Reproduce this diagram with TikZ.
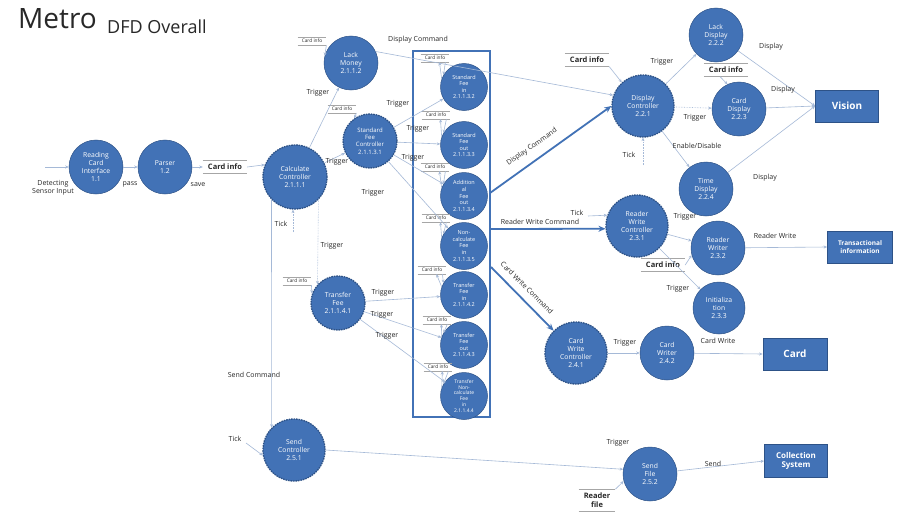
\documentclass[tikz,border=0pt]{standalone}
\usepackage{fontspec}
\setmainfont{Open Sans}
\usetikzlibrary{arrows.meta}
\definecolor{pfill}{RGB}{66,114,182}
\definecolor{pedge}{RGB}{45,82,135}
\definecolor{lnc}{RGB}{165,185,215}
\definecolor{txc}{RGB}{40,40,40}
\newcommand\dstore[4]{\node[#1] (#2) at (#3) {#4};
  \draw[sline] (#2.north west) -- (#2.north east) (#2.south west) -- (#2.south east);}
\begin{document}
\begin{tikzpicture}[x=1pt,y=-1pt,
 proc/.style={circle, fill=pfill, draw=pedge, line width=0.5pt, text=white, align=center, inner sep=0pt, font=\fontsize{6.8}{8.2}\selectfont},
 ctrl/.style={proc, line width=1.3pt, dash pattern=on 1.6pt off 0.9pt},
 boxp/.style={proc, minimum size=47, font=\fontsize{5.5}{6.6}\selectfont},
 ext/.style={rectangle, fill=pfill, draw=pedge, line width=0.8pt, text=white, align=center, inner sep=1pt, font=\bfseries\fontsize{10}{11}\selectfont},
 flow/.style={draw=lnc, line width=0.6pt, -{Stealth[length=3.5pt,width=3pt]}},
 big/.style={draw=pfill, line width=1.8pt, -{Stealth[length=7pt,width=6pt]}},
 lbl/.style={font=\fontsize{7}{8}\selectfont, text=txc, inner sep=0pt, align=center},
 tinystore/.style={font=\fontsize{4.8}{5.5}\selectfont, text=txc, inner xsep=4pt, inner ysep=2pt},
 boldstore/.style={font=\bfseries\fontsize{7.5}{8.5}\selectfont, text=txc, inner xsep=5pt, inner ysep=3.5pt, align=center},
 sline/.style={draw=gray!70, line width=0.6pt}
]
\fill[white] (0,0) rectangle (898,514);
\useasboundingbox (0,0) rectangle (898,514);

% title
\node[lbl, anchor=base west, font=\fontsize{28}{30}\selectfont] (t1) at (18,28) {Metro};
\node[lbl, anchor=base west, font=\fontsize{18}{20}\selectfont] (t2) at (107,34) {DFD Overall};

% processes left
\node[proc, minimum size=54] (rci) at (96,167) {Reading\\Card\\Interface\\1.1};
\node[proc, minimum size=54] (par) at (165,167) {Parser\\1.2};
\node[ctrl, minimum size=64] (calc) at (295,177) {Calculate\\Controller\\2.1.1.1};
\node[proc, minimum size=54] (lack) at (351,63) {Lack\\Money\\2.1.1.2};
\node[ctrl, minimum size=54, font=\fontsize{6}{7.2}\selectfont] (sfc) at (370,141) {Standard\\Fee\\Controller\\2.1.1.3.1};
\node[ctrl, minimum size=54] (tf) at (338,303) {Transfer\\Fee\\2.1.1.4.1};
\node[ctrl, minimum size=62] (sendc) at (294,450) {Send\\Controller\\2.5.1};

% box with fee processes
\node[draw=pfill, line width=1.6pt, minimum width=77, minimum height=366, inner sep=0pt] (box) at (451.5,234) {};
\node[boxp] (b1) at (464,87) {Standard\\Fee\\in\\2.1.1.3.2};
\node[boxp] (b2) at (464,145) {Standard\\Fee\\out\\2.1.1.3.3};
\node[boxp] (b3) at (464,196) {Addition\\al\\Fee\\out\\2.1.1.3.4};
\node[boxp] (b4) at (464,246) {Non-\\calculate\\Fee\\in\\2.1.1.3.5};
\node[boxp] (b5) at (464,295) {Transfer\\Fee\\in\\2.1.1.4.2};
\node[boxp] (b6) at (464,345) {Transfer\\Fee\\out\\2.1.1.4.3};
\node[boxp, font=\fontsize{5}{5.9}\selectfont] (b7) at (464,396) {Transfer\\Non-\\calculate\\Fee\\in\\2.1.1.4.4};

% right side
\node[ctrl, minimum size=62] (disp) at (643,106) {Display\\Controller\\2.2.1};
\node[proc, minimum size=54] (lackd) at (716,35) {Lack\\Display\\2.2.2};
\node[proc, minimum size=54] (cardd) at (739,109) {Card\\Display\\2.2.3};
\node[proc, minimum size=54] (timed) at (706,189) {Time\\Display\\2.2.4};
\node[ext, minimum width=63, minimum height=32] (vis) at (847,106) {Vision};
\node[ctrl, minimum size=62] (rwc) at (637,226) {Reader\\Write\\Controller\\2.3.1};
\node[proc, minimum size=54] (rw) at (718,248) {Reader\\Writer\\2.3.2};
\node[ext, minimum width=65, minimum height=32, font=\bfseries\fontsize{6.5}{7.5}\selectfont] (trans) at (860,247) {Transactional\\information};
\node[proc, minimum size=52] (init) at (719,308) {Initializa\\tion\\2.3.3};
\node[ctrl, minimum size=62] (cwc) at (576,353) {Card\\Write\\Controller\\2.4.1};
\node[proc, minimum size=54] (cw) at (667,353) {Card\\Writer\\2.4.2};
\node[ext, minimum width=64, minimum height=32] (card) at (795,354) {Card};
\node[proc, minimum size=54] (sf) at (650,474) {Send\\File\\2.5.2};
\node[ext, minimum width=63, minimum height=33, font=\bfseries\fontsize{8}{9}\selectfont] (coll) at (796,461) {Collection\\System};

% data stores
\dstore{boldstore}{ci0}{225,167}{Card info}
\dstore{boldstore}{ci1}{587,60}{Card info}
\dstore{boldstore}{ci2}{726,70}{Card info}
\dstore{boldstore}{ci3}{663,265}{Card info}
\dstore{boldstore}{rf}{597,500}{Reader\\file}
\dstore{tinystore}{s0}{312,41}{Card info}
\dstore{tinystore}{s1}{342,109}{Card info}
\dstore{tinystore}{s2}{297,281}{Card info}
\dstore{tinystore}{k1}{435,58}{Card info}
\dstore{tinystore}{k2}{436,115}{Card info}
\dstore{tinystore}{k3}{435,167}{Card info}
\dstore{tinystore}{k4}{436,218}{Card info}
\dstore{tinystore}{k5}{432,270}{Card info}
\dstore{tinystore}{k6}{437,320}{Card info}
\dstore{tinystore}{k7}{438,367}{Card info}

% free ends
\coordinate (inp) at (45,167);
\coordinate (tk1) at (293,232);
\coordinate (tk2) at (643,165);
\coordinate (tk3) at (588,216);
\coordinate (tk4) at (246,443);
\coordinate (bo1) at (490,193);
\coordinate (bo2) at (490,229);
\coordinate (bo3) at (491,267);

% flows left
\draw[flow] (inp) -- (rci);
\draw[flow] (rci) -- (par);
\draw[flow] (par) -- (ci0.west);
\draw[flow] (ci0.east) -- (calc.158);
\draw[flow] (calc) -- (lack);
\draw[flow] (s0.south east) -- (lack.165);
\draw[flow] (calc) -- (sfc);
\draw[flow] (s1.south east) -- (sfc.125);
\draw[flow] (sfc) -- (b1);
\draw[flow] (sfc) -- (b2);
\draw[flow] (sfc) -- (b3);
\draw[flow] (sfc) -- (b4);
\draw[flow] (calc.224) -- (sendc.135);
\draw[flow, densely dotted] (tk1) -- (tk1 |- calc.south);
\draw[flow, densely dotted] (calc.316) -- (tf.138);
\draw[flow] (s2.south east) -- (tf.160);
\draw[flow] (tf) -- (b5);
\draw[flow] (tf) -- (b6);
\draw[flow] (tf) -- (b7);
\draw[flow] (tk4) -- (sendc.190);
\draw[flow] (sendc.east) -- (sf.170);
\draw[flow] (lack.25) -- (disp.160);

% store arrows in box
\foreach \k/\b in {k1/b1,k2/b2,k3/b3,k4/b4,k5/b5,k6/b6,k7/b7}{
  \draw[flow] ([xshift=-4pt]\k.south east) -- (\b.150);
  \draw[flow] (\b.160) -- ([xshift=-10pt]\k.south east);
}

% big arrows from box
\draw[big] (bo1) -- (disp.west);
\draw[big] (bo2) -- (rwc.185);
\draw[big] (bo3) -- (cwc.135);

% flows right
\draw[flow] (ci1.south east) -- (disp.132);
\draw[flow, densely dotted] (tk2) -- (disp.south);
\draw[flow] (disp) -- (lackd);
\draw[flow, densely dotted] (disp) -- (cardd);
\draw[flow] (disp) -- (timed);
\draw[flow] ([xshift=-6pt]ci2.south) -- (cardd.115);
\draw[flow] (lackd) -- (vis.west);
\draw[flow] (cardd) -- (vis.west);
\draw[flow] (timed) -- (vis.west);
\draw[flow] (tk3) -- (rwc.160);
\draw[flow] (rwc) -- (rw);
\draw[flow] (ci3.east) -- (rw.195);
\draw[flow] (rwc) -- (init);
\draw[flow] (rw) -- (trans.west);
\draw[flow] (cwc) -- (cw);
\draw[flow] (cw) -- (card.west);
\draw[flow] (rf.north east) -- (sf.195);
\draw[flow] (sf) -- (coll.west);

% labels
\node[lbl] (l1) at (53,188) {Detecting\\Sensor Input};
\node[lbl] (l2) at (130,184) {pass};
\node[lbl] (l3) at (198,185) {save};
\node[lbl] (l4) at (318,93) {Trigger};
\node[lbl] (l5) at (337,162) {Trigger};
\node[lbl] (l6) at (398,104) {Trigger};
\node[lbl] (l7) at (418,129) {Trigger};
\node[lbl] (l8) at (413,158) {Trigger};
\node[lbl] (l9) at (373,193) {Trigger};
\node[lbl] (l10) at (418,40) {Display Command};
\node[lbl] (l11) at (281,224) {Tick};
\node[lbl] (l12) at (332,246) {Trigger};
\node[lbl] (l13) at (383,293) {Trigger};
\node[lbl] (l14) at (382,315) {Trigger};
\node[lbl] (l15) at (387,336) {Trigger};
\node[lbl] (l16) at (254,375) {Send Command};
\node[lbl] (l17) at (235,439) {Tick};
\node[lbl] (l18) at (629,155) {Tick};
\node[lbl] (l19) at (662,62) {Trigger};
\node[lbl] (l20) at (695,118) {Trigger};
\node[lbl] (l21) at (697,146) {Enable/Disable};
\node[lbl] (l22) at (771,47) {Display};
\node[lbl] (l23) at (783,90) {Display};
\node[lbl] (l24) at (765,178) {Display};
\node[lbl, rotate=35] (l25) at (532,147) {Display Command};
\node[lbl] (l26) at (540,222) {Reader Write Command};
\node[lbl] (l27) at (577,213) {Tick};
\node[lbl, rotate=-45] (l28) at (527,288) {Card Write Command};
\node[lbl] (l29) at (685,217) {Trigger};
\node[lbl] (l30) at (678,289) {Trigger};
\node[lbl] (l31) at (775,236) {Reader Write};
\node[lbl] (l32) at (625,343) {Trigger};
\node[lbl] (l33) at (718,341) {Card Write};
\node[lbl] (l34) at (618,443) {Trigger};
\node[lbl] (l35) at (713,464) {Send};
\end{tikzpicture}
\end{document}
